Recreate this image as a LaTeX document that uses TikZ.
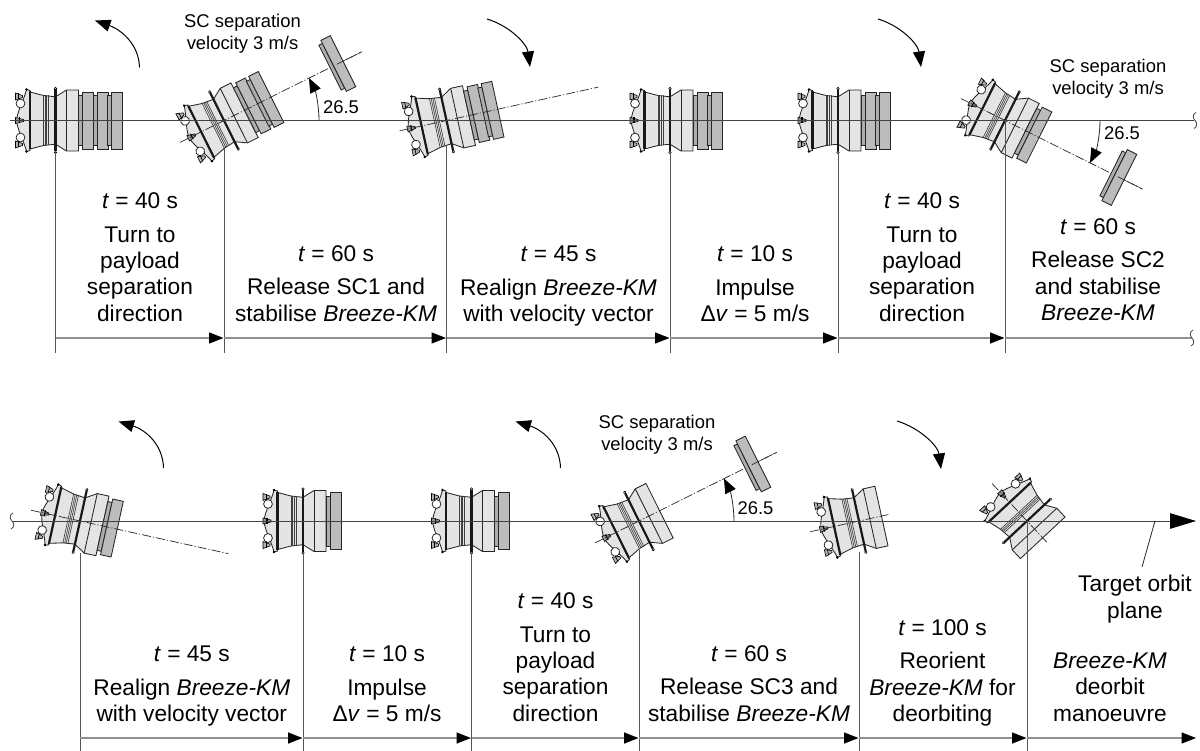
\documentclass[tikz,border=0pt]{standalone}
\usepackage{fontspec}
\setmainfont{Liberation Sans}
\usetikzlibrary{arrows.meta}
\definecolor{bodyc}{HTML}{E4E4E4}
\definecolor{payc}{HTML}{BCBCBC}
\definecolor{adac}{HTML}{ACACAC}
\definecolor{axisc}{HTML}{444444}
\definecolor{linec}{HTML}{555555}
\definecolor{timec}{HTML}{909090}
\tikzset{
  outl/.style={draw=black!85,line width=0.85pt},
  thickbar/.style={draw=black!90,line width=2.2pt},
  bandl/.style={draw=black!75,line width=0.65pt},
  dashax/.style={draw=black!85,line width=0.7pt,dash pattern=on 9pt off 2pt on 1.2pt off 2pt},
  axisline/.style={draw=axisc,line width=1pt},
  drop/.style={draw=linec,line width=1pt},
  timeline/.style={draw=timec,line width=1.4pt,-{Triangle[length=14.5pt,width=11pt,fill=black,color=black]}},
  timeplain/.style={draw=timec,line width=1.4pt},
  bigtip/.style={-{Triangle[length=26pt,width=15.5pt,fill=black,color=black]}},
  turn/.style={draw=black,line width=1pt,-{Triangle[length=15.5pt,width=12pt,fill=black]}},
  lbl/.style={align=center,inner sep=0pt,anchor=south,font=\fontsize{22.7}{26.4}\selectfont},
  small/.style={align=center,inner sep=0pt,font=\fontsize{18.4}{21.7}\selectfont},
  wig/.style={draw=axisc,line width=0.8pt}
}
% name, x, y, angle, payload count, axis start, axis end
\newcommand\craft[7]{%
\coordinate (#1) at (#2,#3);
\begin{scope}[shift={(#2,#3)},rotate=#4]
  % aft dome
  \path[fill=bodyc,outl] (-25.5,-30) -- (-29,-31) .. controls (-31,-22) and (-38,-10) .. (-39,0)
     .. controls (-38,10) and (-31,22) .. (-29,31) -- (-25.5,30) -- cycle;
  % tank
  \path[fill=bodyc,outl] (-25.5,-28.5) -- (-12,-25) -- (0,-23.7) -- (0,23.7) -- (-12,25) -- (-25.5,28.5) -- cycle;
  \foreach \q in {-12,-10.3,-8.7,-7} \draw[bandl] (\q,-25) -- (\q,25);
  % flare and cylinder
  \path[fill=bodyc,outl] (0,-23.7) -- (11,-30.5) -- (23,-30.5) -- (23,30.5) -- (11,30.5) -- (0,23.7) -- cycle;
  \draw[outl] (11,-30.5) -- (11,30.5);
  % payload stack
  \ifnum#5>0
    \foreach \k in {1,...,#5}{%
      \pgfmathsetmacro\pa{23+14.5*(\k-1)}%
      \pgfmathsetmacro\pb{\pa+4.3}%
      \pgfmathsetmacro\pc{\pb+10.8}%
      \path[fill=adac,outl] (\pa,-25) rectangle (\pb,25);
      \path[fill=payc,outl] (\pb,-28.5) rectangle (\pc,28.5);
    }
  \fi
  % bars and knobs
  \draw[thickbar] (-25.5,-29) -- (-25.5,29);
  \draw[thickbar] (0,-31) -- (0,31);
  \foreach \s in {-1,1}{%
    \fill[black] (-29,\s*31) circle (1.4);
    \path[fill=white,draw=black,line width=0.6pt] (0,\s*32) circle (1.2);
    \path[fill=white,draw=black!85,line width=0.8pt] (-35,\s*17) circle (4.4);
    \path[fill=black!30,draw=black,line width=0.6pt] (-33,\s*24-\s*1) -- (-33,\s*24+\s*1) -- (-40,\s*24+\s*3.5) -- (-40,\s*24-\s*3.5) -- cycle;
    \draw[black,line width=0.7pt] (-37,\s*24-\s*3) -- (-37,\s*24+\s*3);
  }
  \path[fill=black!40,draw=black,line width=0.6pt] (-32,-1) -- (-32,1) -- (-40,3) -- (-40,-3) -- cycle;
  \draw[black,line width=1.1pt] (-36,-3) -- (-36,3);
  \draw[dashax] (#6,0) -- (#7,0);
\end{scope}}
% separated spacecraft on the axis of a craft, with angle arc
\newcommand\released[4]{%
\begin{scope}[shift={(#1,#2)},rotate=#3]
  \path[fill=adac,outl] (118.5,-25) rectangle (122.5,25);
  \path[fill=payc,outl] (122.5,-28.5) rectangle (133,28.5);
  \draw[dashax] (126,-0.01) -- (154,0);
\end{scope}
\begin{scope}[shift={(#1,#2)}]
  \draw[draw=black!85,line width=0.8pt,-{Triangle[length=14.5pt,width=11.5pt,fill=black,color=black]}]
     (95,0) .. controls (95,#4*14.7) and (91.6,#4*29.2) .. (85,#4*42.4);
\end{scope}}
\newcommand\wiggle[2]{%
  \draw[wig] (#1+1,#2-8) .. controls (#1-3,#2-6) and (#1-2,#2-2) .. (#1,#2) .. controls (#1+2,#2+2) and (#1+3,#2+6) .. (#1-1,#2+8);}
\begin{document}
\begin{tikzpicture}[x=1pt,y=-1pt]
\useasboundingbox (0,0) rectangle (1200,751);
% ---- spacecraft, top row
\craft{c1}{55.5}{120.5}{0}{3}{-39}{-39}
\craft{c2}{224}{120.5}{26.5}{2}{-49}{154}
\released{224}{120.5}{26.5}{-1}
\craft{c3}{446.5}{120.5}{12.4}{2}{-48}{155}
\craft{c4}{670}{120.5}{0}{2}{-39}{-39}
\craft{c5}{838}{120.5}{0}{2}{-39}{-39}
\craft{c6}{1005}{120.5}{-26.5}{1}{-49}{154}
\released{1005}{120.5}{-26.5}{1}
% ---- spacecraft, bottom row
\craft{c7}{80}{521}{-12.4}{1}{-50}{152}
\craft{c8}{303}{521}{0}{1}{-39}{-39}
\craft{c9}{471.5}{521}{0}{1}{-39}{-39}
\craft{c10}{639}{521}{26.5}{0}{-49}{154}
\released{639}{521}{26.5}{-1}
\craft{c11}{859}{521}{12.4}{0}{-50}{32}
\craft{c12}{1027}{521}{-47}{0}{-51}{31}
% ---- axes
\coordinate (axT0) at (10,120.5);
\coordinate (axT1) at (1194,120.5);
\coordinate (axB0) at (12,521);
\coordinate (axB1) at (1196,521);
\draw[axisline] (axT0) -- (axT1);
\draw[axisline,bigtip] (axB0) -- (axB1);
\wiggle{1195}{120.5}
\wiggle{12}{521}
% ---- drop lines and timelines, top
\foreach \n/\x/\ys in {1/55.5/151,2/224/147,3/446.5/145,4/670/152,5/838/152,6/1005/120.5}{
  \coordinate (dT\n) at (\x,\ys);
  \coordinate (eT\n) at (\x,353);
  \coordinate (tT\n) at (\x,338);
  \draw[drop] (dT\n) -- (eT\n);
}
\coordinate (tTend) at (1192,338);
\foreach \a/\b in {1/2,2/3,3/4,4/5,5/6} \draw[timeline] (tT\a) -- ([xshift=-0.5pt]tT\b);
\draw[timeplain] (tT6) -- (tTend);
\wiggle{1192}{338}
% ---- drop lines and timelines, bottom
\foreach \n/\x/\ys in {1/80/553,2/303/552,3/471.5/553,4/639/550,5/859/552,6/1027/521}{
  \coordinate (dB\n) at (\x,\ys);
  \coordinate (eB\n) at (\x,751);
  \coordinate (tB\n) at (\x,738);
  \draw[drop] (dB\n) -- (eB\n);
}
\coordinate (tBend) at (1196,738);
\foreach \a/\b in {1/2,2/3,3/4,4/5,5/6} \draw[timeline] (tB\a) -- ([xshift=-0.5pt]tB\b);
\draw[timeline] (tB6) -- (tBend);
% ---- turning arrows
\coordinate (r1a) at (139.5,67.5); \coordinate (r1b) at (95,20.5);
\draw[turn] (r1a) .. controls (139,45) and (122,30) .. (r1b);
\coordinate (r2a) at (487,19); \coordinate (r2b) at (530,67);
\draw[turn] (r2a) .. controls (510,26) and (527,44) .. (r2b);
\coordinate (r3a) at (878,19); \coordinate (r3b) at (921,67);
\draw[turn] (r3a) .. controls (901,26) and (918,44) .. (r3b);
\coordinate (r4a) at (163.5,468); \coordinate (r4b) at (118.5,421.5);
\draw[turn] (r4a) .. controls (163,445) and (146,430) .. (r4b);
\coordinate (r5a) at (560.5,468); \coordinate (r5b) at (515.5,421.5);
\draw[turn] (r5a) .. controls (560,445) and (543,430) .. (r5b);
\coordinate (r6a) at (897,421); \coordinate (r6b) at (941,469);
\draw[turn] (r6a) .. controls (920,428) and (938,446) .. (r6b);
% ---- small labels
\node[small] (s1) at (242.5,34) {SC separation\\velocity 3 m/s};
\node[small] (s2) at (1108,79) {SC separation\\velocity 3 m/s};
\node[small] (s3) at (657,435) {SC separation\\velocity 3 m/s};
\node[small] (a1) at (341,107) {26.5};
\node[small] (a2) at (1122,133) {26.5};
\node[small] (a3) at (755.5,508) {26.5};
% ---- step labels, top
\node[lbl] (l1) at (140,321.7) {\textit{t} = 40 s\\[7pt]Turn to\\payload\\separation\\direction};
\node[lbl] (l2) at (336,321.7) {\textit{t} = 60 s\\[7pt]Release SC1 and\\stabilise \textit{Breeze-KM}};
\node[lbl] (l3) at (558.5,326.5) {\textit{t} = 45 s\\[7pt]Realign \textit{Breeze-KM}\\with velocity vector};
\node[lbl] (l4) at (755,322) {\textit{t} = 10 s\\[7pt]Impulse\\Δ\textit{v} = 5 m/s};
\node[lbl] (l5) at (922,321.7) {\textit{t} = 40 s\\[7pt]Turn to\\payload\\separation\\direction};
\node[lbl] (l6) at (1098,321) {\textit{t} = 60 s\\[7pt]Release SC2\\and stabilise\\\textit{Breeze-KM}};
% ---- step labels, bottom
\node[lbl] (l7) at (191.8,726.5) {\textit{t} = 45 s\\[7pt]Realign \textit{Breeze-KM}\\with velocity vector};
\node[lbl] (l8) at (387,722) {\textit{t} = 10 s\\[7pt]Impulse\\Δ\textit{v} = 5 m/s};
\node[lbl] (l9) at (555.5,721.7) {\textit{t} = 40 s\\[7pt]Turn to\\payload\\separation\\direction};
\node[lbl] (l10) at (749,721.7) {\textit{t} = 60 s\\[7pt]Release SC3 and\\stabilise \textit{Breeze-KM}};
\node[lbl] (l11) at (942.5,726.5) {\textit{t} = 100 s\\[7pt]Reorient\\\textit{Breeze-KM} for\\deorbiting};
\node[lbl] (l12) at (1110,721.7) {\textit{Breeze-KM}\\deorbit\\manoeuvre};
\node[lbl] (tp) at (1135,623) {Target orbit\\plane};
\coordinate (tpl) at (1142,567);
\coordinate (tpa) at (1155,521);
\draw[draw=black!85,line width=0.8pt] (tpl) -- (tpa);
\end{tikzpicture}
\end{document}
